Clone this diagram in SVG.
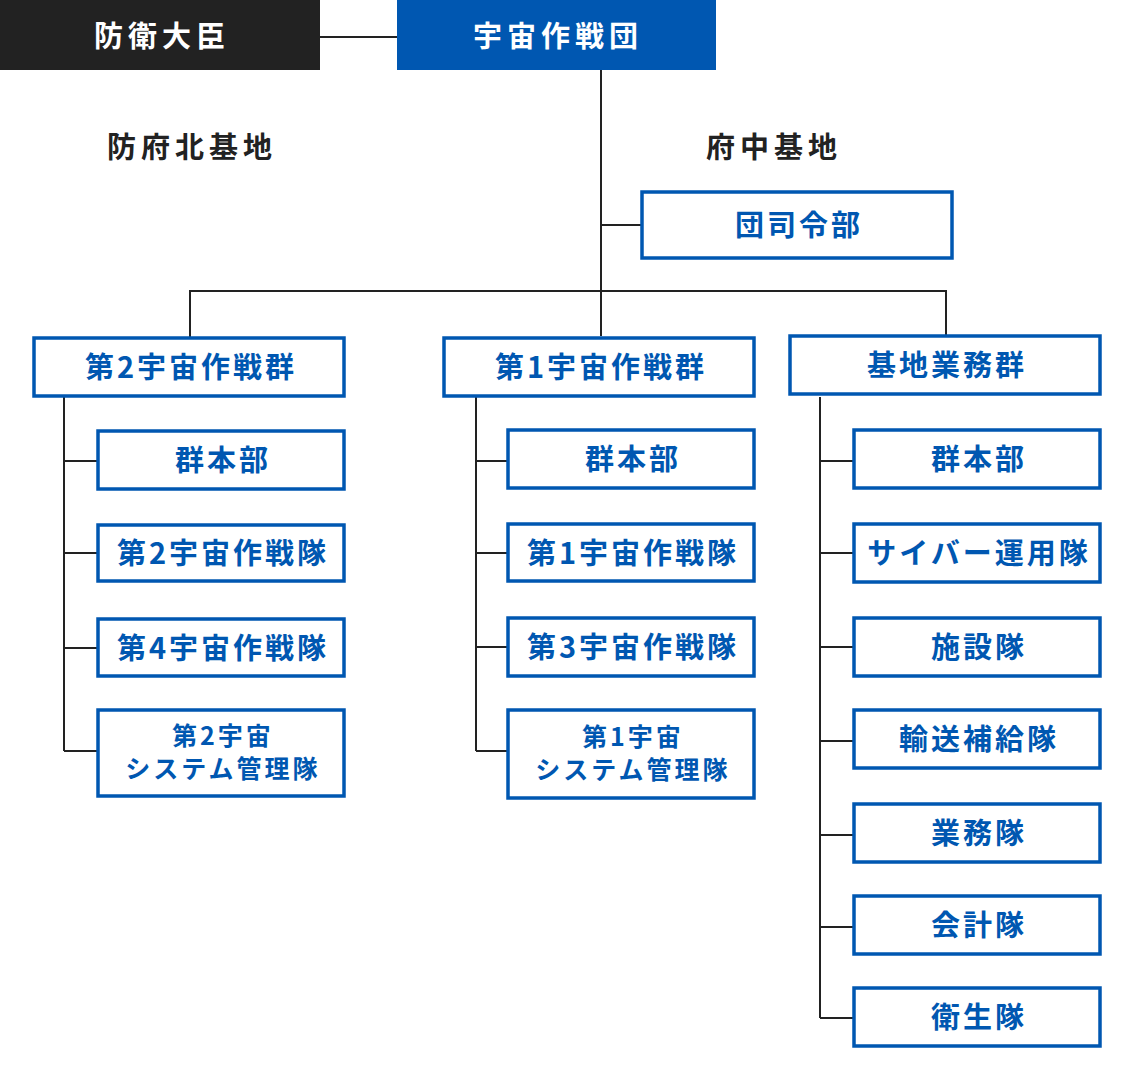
<svg xmlns="http://www.w3.org/2000/svg" width="1134" height="1080" viewBox="0 0 1134 1080">
<style>
.b{fill:#fff;stroke:#0057b1;stroke-width:3.5}
.t{font-family:"Noto Sans CJK JP","Noto Sans",sans-serif;font-weight:700;font-size:29px;fill:#0057b1;text-anchor:middle;dominant-baseline:central;letter-spacing:3px}
.s{font-size:25px;letter-spacing:3px}
.w{fill:#fff;letter-spacing:5px}
.k{fill:#222;letter-spacing:5px}
.c{fill:none;stroke:#222;stroke-width:2}
</style>
<rect width="1134" height="1080" fill="#fff"/>
<g id="connectors">
<path class="c" d="M320 37H397M601 70V336M601 225H641M190 337V291H946V335M64 397V751M64 461H97M64 553H97M64 648H97M64 751H97M476 397V751M476 461H507M476 553H507M476 647H507M476 751H507M820 397V1018M820 461H853M820 553H853M820 647H853M820 741H853M820 835H853M820 927H853M820 1018H853"/>
</g>
<g id="minister"><rect x="0" y="0" width="320" height="70" fill="#222"/><text class="t w" x="162" y="34">防衛大臣</text></g>
<g id="sog"><rect x="397" y="0" width="319" height="70" fill="#0057b1"/><text class="t w" x="558" y="34">宇宙作戦団</text></g>
<text id="lbl-hofu" class="t k" x="192" y="145">防府北基地</text>
<text id="lbl-fuchu" class="t k" x="774" y="145">府中基地</text>
<g id="hq"><rect class="b" x="642" y="192" width="310" height="66"/><text class="t" x="799" y="223">団司令部</text></g>
<g id="g2"><rect class="b" x="34" y="338" width="310" height="58"/><text class="t" x="191" y="365">第2宇宙作戦群</text></g>
<g id="g1"><rect class="b" x="444" y="338" width="310" height="58"/><text class="t" x="601" y="365">第1宇宙作戦群</text></g>
<g id="gb"><rect class="b" x="790" y="336" width="310" height="58"/><text class="t" x="947" y="363">基地業務群</text></g>
<g id="g2-hq"><rect class="b" x="98" y="431" width="246" height="58"/><text class="t" x="223" y="458">群本部</text></g>
<g id="g2-s2"><rect class="b" x="98" y="525" width="246" height="56"/><text class="t" x="223" y="551">第2宇宙作戦隊</text></g>
<g id="g2-s4"><rect class="b" x="98" y="619" width="246" height="57"/><text class="t" x="223" y="646">第4宇宙作戦隊</text></g>
<g id="g2-ssm"><rect class="b" x="98" y="710" width="246" height="86"/><text class="t s" x="223" y="734">第2宇宙</text><text class="t s" x="223" y="767">システム管理隊</text></g>
<g id="g1-hq"><rect class="b" x="508" y="430" width="246" height="58"/><text class="t" x="633" y="457">群本部</text></g>
<g id="g1-s1"><rect class="b" x="508" y="524" width="246" height="57"/><text class="t" x="633" y="551">第1宇宙作戦隊</text></g>
<g id="g1-s3"><rect class="b" x="508" y="618" width="246" height="58"/><text class="t" x="633" y="645">第3宇宙作戦隊</text></g>
<g id="g1-ssm"><rect class="b" x="508" y="710" width="246" height="88"/><text class="t s" x="633" y="735">第1宇宙</text><text class="t s" x="633" y="768">システム管理隊</text></g>
<g id="gb-hq"><rect class="b" x="854" y="430" width="246" height="58"/><text class="t" x="979" y="457">群本部</text></g>
<g id="gb-cyber"><rect class="b" x="854" y="524" width="246" height="58"/><text class="t" x="979" y="551">サイバー運用隊</text></g>
<g id="gb-fac"><rect class="b" x="854" y="618" width="246" height="58"/><text class="t" x="979" y="645">施設隊</text></g>
<g id="gb-trans"><rect class="b" x="854" y="710" width="246" height="58"/><text class="t" x="979" y="737">輸送補給隊</text></g>
<g id="gb-biz"><rect class="b" x="854" y="804" width="246" height="58"/><text class="t" x="979" y="831">業務隊</text></g>
<g id="gb-acc"><rect class="b" x="854" y="896" width="246" height="58"/><text class="t" x="979" y="923">会計隊</text></g>
<g id="gb-med"><rect class="b" x="854" y="988" width="246" height="58"/><text class="t" x="979" y="1015">衛生隊</text></g>
</svg>
